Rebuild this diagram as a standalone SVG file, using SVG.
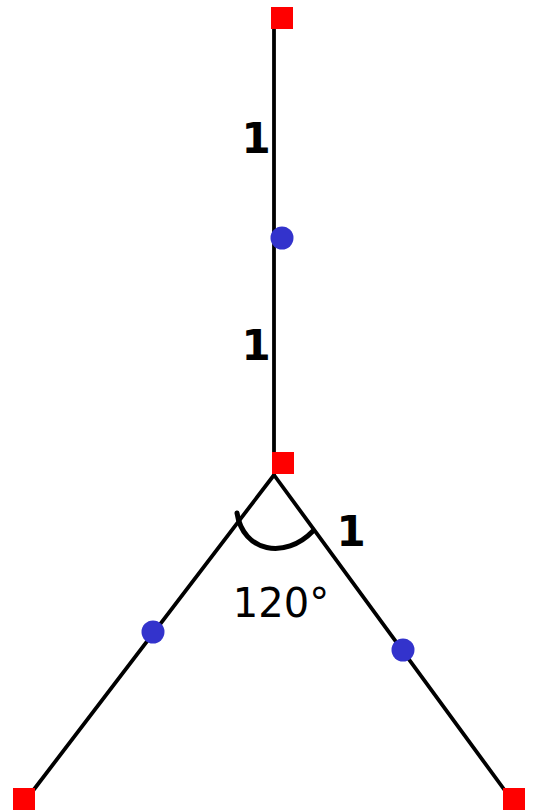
<svg xmlns="http://www.w3.org/2000/svg" width="534" height="811" viewBox="0 0 534 811">
<style>
.edge{stroke:#000;stroke-width:3.8;fill:none;stroke-linecap:round}
.sq{fill:#ff0000}
.dot{fill:#3333cc}
.lbl{font-family:"DejaVu Sans",Verdana,sans-serif;font-weight:bold;font-size:42px;fill:#000}
.ang{font-family:"DejaVu Sans",Verdana,sans-serif;font-size:40px;fill:#000}
</style>
<rect width="534" height="811" fill="#fff"/>
<g id="connectors">
<line class="edge" x1="274" y1="29" x2="274" y2="475"/>
<line class="edge" x1="274" y1="475" x2="32" y2="792"/>
<line class="edge" x1="274" y1="475" x2="506" y2="792"/>
<path class="edge" d="M237,513 C243,552 285,560 313,531" style="stroke-width:5"/>
</g>
<g id="n-top"><rect class="sq" x="271" y="7" width="22" height="22"/></g>
<g id="n-mid-top"><circle class="dot" cx="282" cy="238" r="11.5"/></g>
<g id="n-center"><rect class="sq" x="272" y="452" width="22" height="22"/></g>
<g id="n-mid-left"><circle class="dot" cx="153" cy="632" r="11.5"/></g>
<g id="n-mid-right"><circle class="dot" cx="403" cy="650" r="11.5"/></g>
<g id="n-left"><rect class="sq" x="13" y="788" width="22" height="22"/></g>
<g id="n-right"><rect class="sq" x="503" y="788" width="22" height="22"/></g>
<g id="labels">
<text class="lbl" x="256" y="153" text-anchor="middle">1</text>
<text class="lbl" x="256" y="360" text-anchor="middle">1</text>
<text class="lbl" x="351" y="546" text-anchor="middle">1</text>
<text class="ang" x="281" y="617" text-anchor="middle">120°</text>
</g>
</svg>
